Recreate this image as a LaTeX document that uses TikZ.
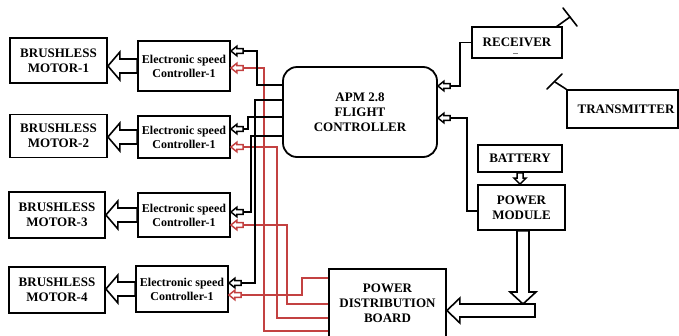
\documentclass[tikz,border=0pt]{standalone}
\usepackage{fontspec}
\setmainfont{Liberation Serif}
\usetikzlibrary{calc}
\definecolor{pred}{RGB}{195,65,65}
% left-pointing hollow block arrow: style, rear point, tip point, half shaft, half head, head length
\newcommand\leftarr[6]{\draw[#1] let \p1=(#2),\p2=(#3) in
  (\x1,\y1+#4) -- (\x2+#6,\y1+#4) -- (\x2+#6,\y1+#5) -- (\x2,\y1) --
  (\x2+#6,\y1-#5) -- (\x2+#6,\y1-#4) -- (\x1,\y1-#4) -- cycle;}
% down-pointing hollow block arrow
\newcommand\downarr[6]{\draw[#1] let \p1=(#2),\p2=(#3) in
  (\x1+#4,\y1) -- (\x1+#4,\y2+#6) -- (\x1+#5,\y2+#6) -- (\x1,\y2) --
  (\x1-#5,\y2+#6) -- (\x1-#4,\y2+#6) -- (\x1-#4,\y1) -- cycle;}
\begin{document}
\begin{tikzpicture}[x=1pt,y=-1pt,
  box/.style={draw,line width=1.8pt,inner sep=0pt,align=center,
    font=\fontsize{13}{15}\selectfont\bfseries},
  escbox/.style={box,font=\fontsize{12}{14}\selectfont\bfseries},
  lnk/.style={line width=1.8pt,black},
  pwr/.style={line width=1.6pt,pred},
  harrow/.style={line width=1.6pt,fill=white,line join=miter},
  sarrow/.style={line width=1.5pt,fill=white,line join=miter},
  rarrow/.style={line width=1.5pt,fill=white,draw=pred,line join=miter},
  ant/.style={line width=1.6pt,line cap=round}]
\useasboundingbox (0,0) rectangle (679,335);
\clip (0,0) rectangle (679,335);
\fill[white] (0,0) rectangle (679,335);

% motors
\node[box,minimum width=97pt,minimum height=45pt] (m1) at (58.5,60.5) {BRUSHLESS\\MOTOR-1};
\node[box,minimum width=97pt,minimum height=43pt] (m2) at (58.5,136) {BRUSHLESS\\MOTOR-2};
\node[box,minimum width=96pt,minimum height=46pt] (m3) at (57,215) {BRUSHLESS\\MOTOR-3};
\node[box,minimum width=96pt,minimum height=46pt] (m4) at (57,290) {BRUSHLESS\\MOTOR-4};
% ESCs
\node[escbox,minimum width=92pt,minimum height=50pt] (e1) at (184,66) {Electronic speed\\Controller-1};
\node[escbox,minimum width=92pt,minimum height=42pt] (e2) at (184,137) {Electronic speed\\Controller-1};
\node[escbox,minimum width=92pt,minimum height=44pt] (e3) at (184,215) {Electronic speed\\Controller-1};
\node[escbox,minimum width=92pt,minimum height=46pt] (e4) at (182,289) {Electronic speed\\Controller-1};
% main blocks
\node[box,rounded corners=14pt,minimum width=154pt,minimum height=90pt] (apm) at (360,112) {APM 2.8\\FLIGHT\\CONTROLLER};
\node[box,minimum width=90pt,minimum height=31pt] (rec) at (517,42.5) {RECEIVER};
\node[box,minimum width=111pt,minimum height=38pt] (tx) at (622.5,109) {\hspace*{7pt}TRANSMITTER};
\node[box,minimum width=84pt,minimum height=27pt] (bat) at (520,158.5) {BATTERY};
\node[box,minimum width=87pt,minimum height=45pt] (pm) at (521.5,207.5) {POWER\\MODULE};
\node[box,minimum width=117pt,minimum height=68pt] (pdb) at (387.5,303) {POWER\\DISTRIBUTION\\BOARD};

% small mark under RECEIVER
\draw[line width=0.6pt,gray] (513,53.5) -- (518,53.5);

% antennas
\coordinate (ra) at (570,17);
\draw[ant] (556,27) -- (ra);
\draw[ant] (563,8) -- (577,26);
\coordinate (ta) at (555,82);
\draw[ant] (tx.north west) -- (ta);
\draw[ant] (547,89) -- (562,74);

% red power lines PDB -> ESCs
\draw[pwr] (pdb.west |- 0,331) -| (264,68) -- (243,68);
\draw[pwr] (pdb.west |- 0,318) -| (277,147) -- (243,147);
\draw[pwr] (pdb.west |- 0,304) -| (287,225) -- (243,225);
\draw[pwr] (pdb.west |- 0,278) -| (302,295) -- (241,295);

% black signal lines APM -> ESCs
\draw[lnk] (apm.west |- 0,85) -| (257,51) -- (243,51);
\draw[lnk] (apm.west |- 0,117) -| (248,129) -- (243,129);
\draw[lnk] (apm.west |- 0,136) -| (251,212) -- (243,212);
\draw[lnk] (apm.west |- 0,100) -| (255,283) -- (241,283);

% receiver / power module -> APM
\draw[lnk] (rec.west) -| (460,86) -- (450,86);
\draw[lnk] (pm.west |- 0,211) -| (467,118) -- (450,118);

% small arrowheads
\leftarr{sarrow}{243,51}{e1.east |- 0,51}{2.4pt}{4.8pt}{6pt}
\leftarr{sarrow}{243,129}{e2.east |- 0,129}{2.4pt}{4.8pt}{6pt}
\leftarr{sarrow}{243,212}{e3.east |- 0,212}{2.4pt}{4.8pt}{6pt}
\leftarr{sarrow}{241,283}{e4.east |- 0,283}{2.4pt}{4.8pt}{6pt}
\leftarr{rarrow}{243,68}{e1.east |- 0,68}{2.4pt}{4.8pt}{6pt}
\leftarr{rarrow}{243,147}{e2.east |- 0,147}{2.4pt}{4.8pt}{6pt}
\leftarr{rarrow}{243,225}{e3.east |- 0,225}{2.4pt}{4.8pt}{6pt}
\leftarr{rarrow}{241,295}{e4.east |- 0,295}{2.4pt}{4.8pt}{6pt}
\leftarr{sarrow}{450,86}{apm.east |- 0,86}{2.4pt}{4.8pt}{6pt}
\leftarr{sarrow}{450,118}{apm.east |- 0,118}{2.4pt}{4.8pt}{6pt}

% ESC -> motor hollow arrows
\leftarr{harrow}{e1.west}{m1.east |- e1.west}{7pt}{14pt}{12pt}
\leftarr{harrow}{e2.west}{m2.east |- e2.west}{7pt}{14pt}{12pt}
\leftarr{harrow}{e3.west}{m3.east |- e3.west}{7pt}{14pt}{12pt}
\leftarr{harrow}{e4.west}{m4.east |- e4.west}{7pt}{14pt}{12pt}

% battery -> power module
\downarr{sarrow}{bat.south}{pm.north}{3pt}{6pt}{6pt}
% power module -> PDB
\coordinate (pmo) at ($(pm.south)+(1.5,0)$);
\coordinate (pj) at (pmo |- 0,304);
\downarr{harrow}{pmo}{pj}{6pt}{13pt}{12pt}
\leftarr{harrow}{535,310.5}{pdb.east |- 0,310.5}{6.5pt}{12.5pt}{13pt}
\end{tikzpicture}
\end{document}
